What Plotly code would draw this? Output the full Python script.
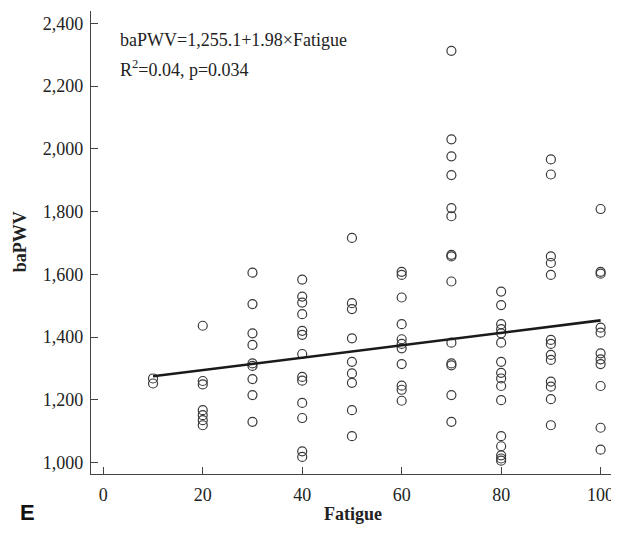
import plotly.graph_objects as go

# Data (Fatigue score vs baPWV)
fatigue_levels = [10, 20, 30, 40, 50, 60, 70, 80, 90, 100]
bapwv_by_level = [
    [1268, 1252],
    [1436, 1260, 1249, 1167, 1151, 1135, 1119],
    [1605, 1505, 1412, 1375, 1316, 1308, 1266, 1215, 1130],
    [1583, 1529, 1510, 1473, 1420, 1407, 1346, 1273, 1261, 1190, 1142, 1036, 1018],
    [1716, 1508, 1489, 1396, 1321, 1284, 1254, 1167, 1084],
    [1608, 1598, 1526, 1441, 1393, 1378, 1364, 1314, 1245, 1232, 1197],
    [2312, 2030, 1976, 1916, 1811, 1785, 1662, 1657, 1577, 1382, 1316, 1310, 1215, 1130],
    [1545, 1502, 1441, 1425, 1412, 1382, 1321, 1286, 1268, 1244, 1199, 1084, 1052, 1023, 1013, 1006],
    [1966, 1918, 1657, 1636, 1598, 1391, 1378, 1343, 1327, 1258, 1242, 1202, 1119],
    [1808, 1608, 1602, 1430, 1414, 1348, 1329, 1314, 1244, 1111, 1041],
]
intercept = 1255.1
slope = 1.98
x_ticks = [0, 20, 40, 60, 80, 100]
y_ticks = [1000, 1200, 1400, 1600, 1800, 2000, 2200, 2400]

xs, ys = [], []
for lvl, vals in zip(fatigue_levels, bapwv_by_level):
    for v in vals:
        xs.append(lvl)
        ys.append(v)

line_x = [min(fatigue_levels), max(fatigue_levels)]
line_y = [intercept + slope * v for v in line_x]

serif = "Liberation Serif, Times New Roman, serif"
txt = "#222222"

# page body has an 8px margin; figure is drawn offset by (8, 8)
OFF = 8
W, H = 619 - OFF, 537 - OFF
PL, PR, PT, PB = 91, 619, 11, 473.7  # plot area in screen pixels


def px(x):
    return (x - PL) / (PR - PL)


def py(y):
    return (PB - y) / (PB - PT)


fig = go.Figure()
fig.add_trace(go.Scatter(
    x=xs, y=ys, mode="markers",
    marker=dict(symbol="circle-open", size=9, color="#3a3a3a", line=dict(width=1.2)),
    showlegend=False, hoverinfo="x+y",
))
fig.add_trace(go.Scatter(
    x=line_x, y=line_y, mode="lines",
    line=dict(color="#1a1a1a", width=2.6),
    showlegend=False,
))

axis_common = dict(
    showgrid=False, zeroline=False, showline=True, linecolor="#444444", linewidth=1.3,
    ticks="inside", ticklen=7, tickwidth=1.2, tickcolor="#444444", automargin=False,
    tickfont=dict(family=serif, size=18, color=txt),
)
fig.update_layout(
    width=W, height=H,
    margin=dict(l=PL - OFF, r=W - (PR - OFF), t=PT - OFF, b=H - (PB - OFF), pad=0),
    plot_bgcolor="white", paper_bgcolor="white",
    xaxis=dict(range=[-2.47, 103.7], tickvals=x_ticks, ticklabelstandoff=4, **axis_common),
    yaxis=dict(range=[963.6, 2439], tickvals=y_ticks, tickformat=",", ticklabelstandoff=3, **axis_common),
    annotations=[
        dict(text="baPWV=1,255.1+1.98×Fatigue", xref="paper", yref="paper",
             x=px(118), y=py(40), xanchor="left", yanchor="middle",
             showarrow=False, font=dict(family=serif, size=18, color=txt)),
        dict(text="R<sup>2</sup>=0.04, p=0.034", xref="paper", yref="paper",
             x=px(118), y=py(68), xanchor="left", yanchor="middle",
             showarrow=False, font=dict(family=serif, size=18, color=txt)),
        dict(text="<b>Fatigue</b>", xref="paper", yref="paper",
             x=px(353), y=py(514), xanchor="center", yanchor="middle",
             showarrow=False, font=dict(family=serif, size=18, color=txt)),
        dict(text="<b>baPWV</b>", xref="paper", yref="paper", textangle=-90,
             x=px(20), y=py(242), xanchor="center", yanchor="middle",
             showarrow=False, font=dict(family=serif, size=18, color=txt)),
        dict(text="<b>E</b>", xref="paper", yref="paper",
             x=px(18), y=py(512), xanchor="left", yanchor="middle",
             showarrow=False, font=dict(family="Liberation Sans, Arial, sans-serif", size=22, color="#111111")),
    ],
)

fig.write_html("out.html")
